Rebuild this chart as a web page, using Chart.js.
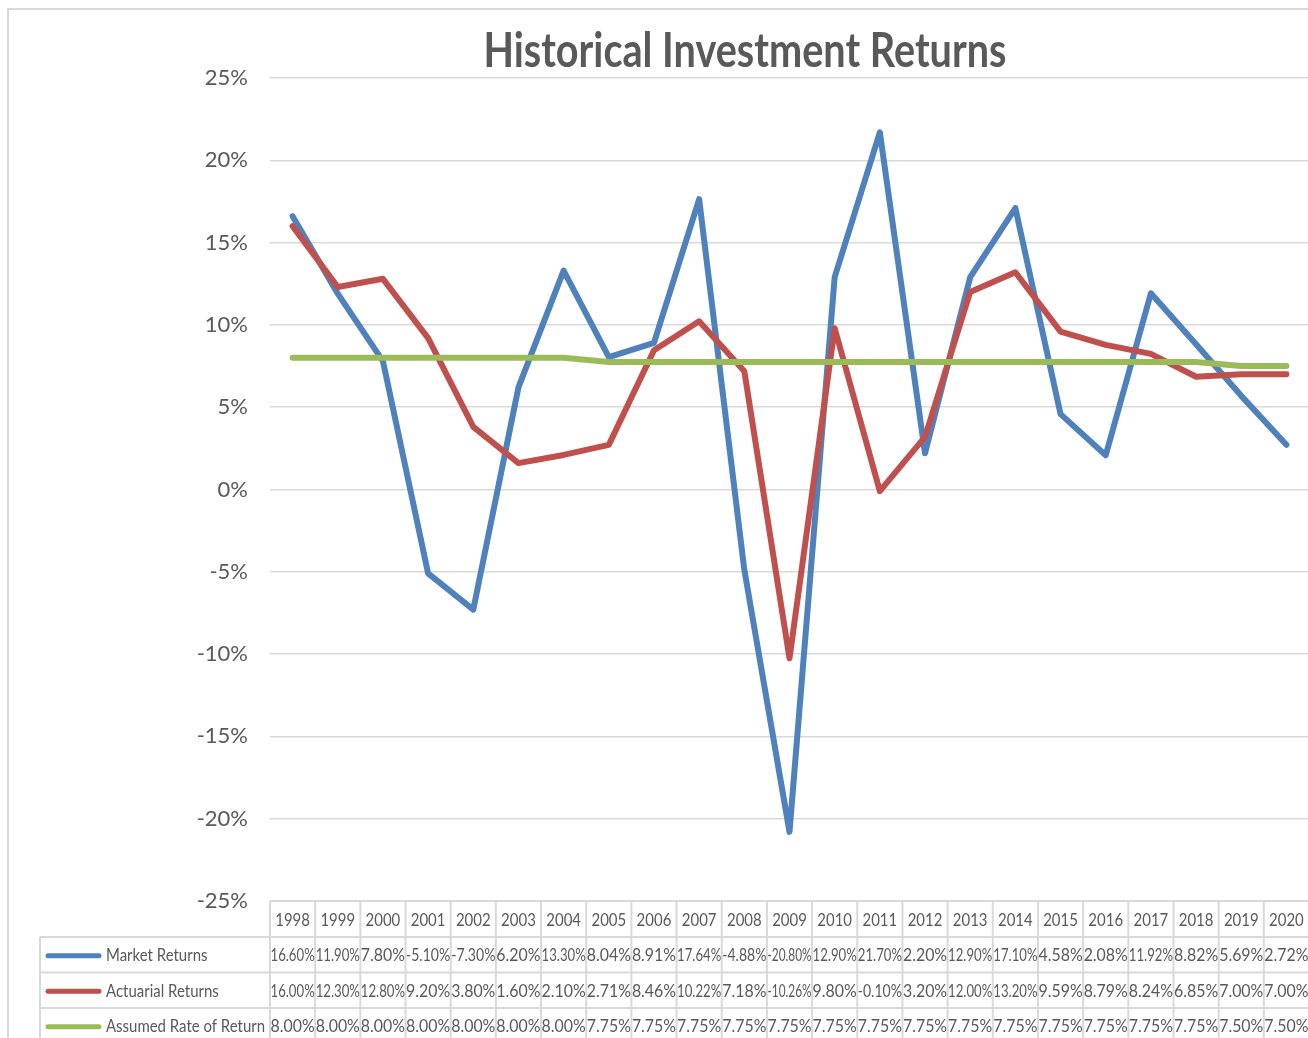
<!DOCTYPE html>
<html lang="en">
<head>
    <meta charset="UTF-8">
    <title>Historical Investment Returns</title>
    <script src="https://cdn.jsdelivr.net/npm/chart.js"></script>
    <style>
        html, body {
            margin: 0;
            padding: 0;
            background: #fff;
            overflow: hidden;
        }
        .chart-container {
            position: relative;
            width: 1312px;
            height: 1038px;
        }
    </style>
</head>
<body>

<div class="chart-container">
    <canvas id="returnsChart"></canvas>
</div>

<script>
    const years = ['1998', '1999', '2000', '2001', '2002', '2003', '2004', '2005', '2006', '2007', '2008', '2009',
        '2010', '2011', '2012', '2013', '2014', '2015', '2016', '2017', '2018', '2019', '2020'];
    const marketReturns = [16.60, 11.90, 7.80, -5.10, -7.30, 6.20, 13.30, 8.04, 8.91, 17.64, -4.88, -20.80,
        12.90, 21.70, 2.20, 12.90, 17.10, 4.58, 2.08, 11.92, 8.82, 5.69, 2.72];
    const actuarialReturns = [16.00, 12.30, 12.80, 9.20, 3.80, 1.60, 2.10, 2.71, 8.46, 10.22, 7.18, -10.26,
        9.80, -0.10, 3.20, 12.00, 13.20, 9.59, 8.79, 8.24, 6.85, 7.00, 7.00];
    const assumedRate = [8.00, 8.00, 8.00, 8.00, 8.00, 8.00, 8.00, 7.75, 7.75, 7.75, 7.75, 7.75,
        7.75, 7.75, 7.75, 7.75, 7.75, 7.75, 7.75, 7.75, 7.75, 7.50, 7.50];
    const yTicks = [-25, -20, -15, -10, -5, 0, 5, 10, 15, 20, 25];

    const titleText = 'Historical Investment Returns';
    const textColor = '#595959';
    const gridColor = '#d9d9d9';
    const fontFamily = 'Lato, "Open Sans", sans-serif';
    const squeeze = 0.88; // the original uses a narrower face

    const series = [
        { label: 'Market Returns', data: marketReturns, color: '#4f81bd' },
        { label: 'Actuarial Returns', data: actuarialReturns, color: '#c0504d' },
        { label: 'Assumed Rate of Return', data: assumedRate, color: '#9bbb59' }
    ];

    function narrowText(ctx, text, x, y, limit) {
        let w = ctx.measureText(text).width * squeeze;
        if (limit && w > limit) w = limit;
        ctx.fillText(text, x, y, w);
    }

    // title, outer frame and the data table under the plot
    const tablePlugin = {
        id: 'dataTable',
        afterDraw(chart) {
            const ctx = chart.ctx;
            const area = chart.chartArea;
            const xScale = chart.scales.x;
            const colW = (area.right - area.left) / years.length;
            const rowTop = area.bottom;
            const headH = 36;
            const rowH = 35.5;
            const legendLeft = 40;

            ctx.save();

            // outer frame
            ctx.strokeStyle = gridColor;
            ctx.lineWidth = 2;
            ctx.beginPath();
            ctx.moveTo(8, chart.height);
            ctx.lineTo(8, 9);
            ctx.lineTo(chart.width, 9);
            ctx.stroke();

            // title
            ctx.fillStyle = textColor;
            ctx.font = 'bold 47px ' + fontFamily;
            ctx.textAlign = 'center';
            ctx.textBaseline = 'alphabetic';
            ctx.fillText(titleText, 745, 67, 523);

            // table grid
            ctx.strokeStyle = gridColor;
            ctx.lineWidth = 2;
            ctx.beginPath();
            ctx.moveTo(area.left, rowTop);
            ctx.lineTo(area.right, rowTop);
            for (let r = 0; r <= series.length; r++) {
                const y = rowTop + headH + r * rowH;
                ctx.moveTo(legendLeft, y);
                ctx.lineTo(area.right, y);
            }
            ctx.moveTo(legendLeft, rowTop + headH);
            ctx.lineTo(legendLeft, chart.height);
            for (let i = 0; i <= years.length; i++) {
                const x = xScale.getPixelForValue(i) - colW / 2;
                ctx.moveTo(x, rowTop);
                ctx.lineTo(x, chart.height);
            }
            ctx.stroke();

            // header years
            ctx.font = '17px ' + fontFamily;
            ctx.fillStyle = textColor;
            ctx.textAlign = 'center';
            ctx.textBaseline = 'middle';
            years.forEach((year, i) => {
                narrowText(ctx, year, xScale.getPixelForValue(i), rowTop + headH / 2 + 2, colW - 4);
            });

            // rows
            series.forEach((s, r) => {
                const cy = rowTop + headH + r * rowH + rowH / 2 + 1;

                ctx.strokeStyle = s.color;
                ctx.lineWidth = 5;
                ctx.lineCap = 'round';
                ctx.beginPath();
                ctx.moveTo(48, cy);
                ctx.lineTo(99, cy);
                ctx.stroke();

                ctx.fillStyle = textColor;
                ctx.textAlign = 'left';
                narrowText(ctx, s.label, 106, cy, 159);

                ctx.textAlign = 'center';
                s.data.forEach((v, i) => {
                    ctx.fillText(v.toFixed(2) + '%', xScale.getPixelForValue(i), cy, colW - 1);
                });
            });

            ctx.restore();
        }
    };

    const ctx = document.getElementById('returnsChart').getContext('2d');
    const returnsChart = new Chart(ctx, {
        type: 'line',
        data: {
            labels: years,
            datasets: series.map((s, i) => ({
                label: s.label,
                data: s.data,
                borderColor: s.color,
                backgroundColor: s.color,
                borderWidth: 6,
                borderCapStyle: 'round',
                borderJoinStyle: 'round',
                pointRadius: 0,
                tension: 0,
                fill: false,
                order: series.length - i
            }))
        },
        options: {
            responsive: true,
            maintainAspectRatio: false,
            animation: false,
            layout: {
                padding: { left: 0, right: 3, top: 78, bottom: 137 }
            },
            plugins: {
                legend: { display: false },
                title: { display: false },
                tooltip: { enabled: false }
            },
            scales: {
                x: {
                    display: false,
                    offset: true
                },
                y: {
                    min: yTicks[0],
                    max: yTicks[yTicks.length - 1],
                    afterFit(scale) {
                        scale.width = 270;
                    },
                    afterBuildTicks(scale) {
                        scale.ticks = yTicks.map(v => ({ value: v }));
                    },
                    border: { display: false },
                    grid: {
                        color: gridColor,
                        lineWidth: 1.5,
                        drawTicks: false
                    },
                    ticks: {
                        padding: 22,
                        color: textColor,
                        font: { family: fontFamily, size: 22 },
                        callback: value => value + '%'
                    }
                }
            }
        },
        plugins: [tablePlugin]
    });
</script>

</body>
</html>
